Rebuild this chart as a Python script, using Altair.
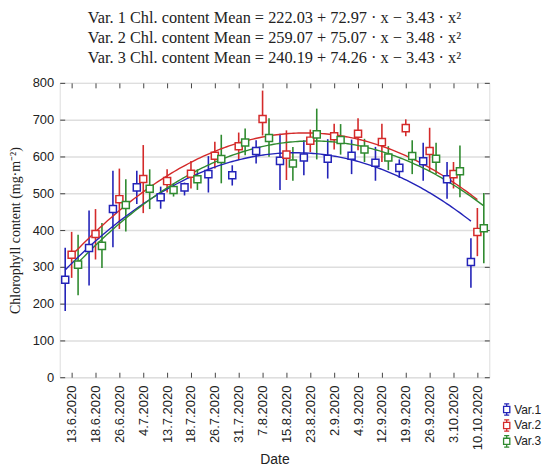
import altair as alt
import pandas as pd

dates = ["13.6.2020", "18.6.2020", "26.6.2020", "4.7.2020", "13.7.2020", "18.7.2020",
         "26.7.2020", "31.7.2020", "7.8.2020", "15.8.2020", "23.8.2020", "2.9.2020",
         "4.9.2020", "12.9.2020", "19.9.2020", "26.9.2020", "3.10.2020", "10.10.2020"]
variants = ["Var.1", "Var.2", "Var.3"]

v1_mean = [265, 351, 457, 516, 489, 516, 552, 549, 615, 588, 597, 594, 602, 583, 569, 587, 538, 313]
v1_lo = [180, 249, 353, 471, 458, 494, 502, 521, 581, 509, 549, 540, 552, 534, 542, 534, 485, 243]
v1_hi = [352, 453, 561, 561, 518, 529, 601, 576, 644, 662, 644, 647, 646, 626, 592, 637, 585, 378]

v2_mean = [333, 389, 484, 539, 533, 553, 602, 628, 702, 605, 643, 655, 662, 639, 677, 615, 552, 395]
v2_lo = [270, 320, 403, 446, 502, 513, 567, 590, 657, 536, 612, 619, 617, 585, 655, 558, 513, 329]
v2_hi = [395, 457, 567, 631, 565, 588, 640, 665, 779, 671, 673, 689, 704, 689, 701, 678, 585, 460]

v3_mean = [306, 357, 468, 512, 509, 538, 593, 638, 650, 581, 660, 645, 619, 597, 601, 594, 560, 405]
v3_lo = [223, 297, 396, 457, 491, 509, 527, 603, 599, 534, 592, 605, 585, 563, 552, 552, 489, 310]
v3_hi = [387, 419, 538, 565, 527, 565, 659, 676, 704, 626, 730, 688, 648, 628, 644, 637, 630, 501]

# fitted quadratic coefficients (from the chart's equations)
coef_a = [222.03, 259.07, 240.19]
coef_b = [72.97, 75.07, 74.26]
coef_c = [-3.43, -3.48, -3.43]

colors = ["#2323b8", "#d42a2a", "#2f8a2f"]
offsets = [-0.27, 0.0, 0.27]

rows = []
for name, m, lo, hi in [("Var.1", v1_mean, v1_lo, v1_hi),
                        ("Var.2", v2_mean, v2_lo, v2_hi),
                        ("Var.3", v3_mean, v3_lo, v3_hi)]:
    for i in range(len(dates)):
        rows.append({"idx": i + 1, "var": name, "mean": m[i], "lo": lo[i], "hi": hi[i]})
df = pd.DataFrame(rows)

offset_expr = ("datum.idx + (datum.var == 'Var.1' ? %s : datum.var == 'Var.2' ? %s : %s)"
               % (offsets[0], offsets[1], offsets[2]))

label_expr = "[" + ",".join("'%s'" % d for d in dates) + "][datum.value - 1]"

xscale = alt.Scale(domain=[0.5, 18.5], nice=False, zero=False)
yscale = alt.Scale(domain=[0, 800], nice=False)
cscale = alt.Scale(domain=variants, range=colors)

sans = "Liberation Sans"
serif = "Liberation Serif"
inward = {"expr": "-5"}

x_bottom = alt.Axis(orient="bottom", values=list(range(1, 19)), labelExpr=label_expr,
                    labelAngle=270, labelAlign="right", labelBaseline="middle",
                    labelFont=sans, labelFontSize=13, labelColor="#222",
                    tickSize=inward, tickColor="#444", domain=False, grid=False,
                    labelPadding=13, title="Date", titleFont=sans, titleFontSize=14,
                    titleFontWeight="normal", titleColor="#222", titlePadding=3)
y_left = alt.Axis(orient="left", values=list(range(0, 801, 100)),
                  labelFont=sans, labelFontSize=13, labelColor="#222",
                  tickSize=inward, tickColor="#444", domain=False,
                  grid=True, gridColor="#dedede", gridWidth=1.5, labelPadding=11,
                  title="Chlorophyll content (mg·m⁻²)", titleFont=serif, titleFontSize=14,
                  titleFontWeight="normal", titleColor="#222", titlePadding=10)
x_top = alt.Axis(orient="top", values=list(range(1, 19)), labels=False,
                 tickSize=inward, tickColor="#444", domain=False, grid=False, title=None)
y_right = alt.Axis(orient="right", values=list(range(0, 801, 100)), labels=False,
                   tickSize=inward, tickColor="#444", domain=False, grid=False,
                   title=None)

legend = alt.Legend(
    title=None, orient="none", legendX=443, legendY=322,
    symbolType="M-0.55,-0.55H0.55V0.55H-0.55Z M0,-1V-0.55 M0,0.55V1 M-0.45,-1H0.45 M-0.45,1H0.45",
    symbolSize=130, symbolStrokeWidth=1.3, symbolFillColor="white",
    labelFont=sans, labelFontSize=12, labelColor="#222", labelOffset=1,
    rowPadding=-1, padding=0)

base = alt.Chart(df).transform_calculate(xpos=offset_expr)

bars = base.mark_rule(strokeWidth=1.6).encode(
    x=alt.X("xpos:Q", scale=xscale, axis=x_bottom),
    y=alt.Y("lo:Q", scale=yscale, axis=y_left),
    y2="hi:Q",
    color=alt.Color("var:N", scale=cscale, legend=legend),
)

points = base.mark_point(shape="square", filled=False, fill="white", size=50,
                         strokeWidth=1.5, opacity=1).encode(
    x=alt.X("xpos:Q", scale=xscale, axis=x_top),
    y=alt.Y("mean:Q", scale=yscale, axis=y_right),
    color=alt.Color("var:N", scale=cscale, legend=legend),
)

curves = []
for k, name in enumerate(variants):
    c = alt.Chart(alt.sequence(1, 18.05, 0.1, as_="t")).transform_calculate(
        xpos="datum.t + %s" % offsets[k],
        yfit="%s + %s * datum.t + (%s) * datum.t * datum.t" % (coef_a[k], coef_b[k], coef_c[k]),
    ).mark_line(color=colors[k], strokeWidth=1.4, clip=True).encode(
        x=alt.X("xpos:Q", scale=xscale, axis=None),
        y=alt.Y("yfit:Q", scale=yscale, axis=None),
    )
    curves.append(c)

title = alt.TitleParams(
    text=["Var. 1 Chl. content Mean = 222.03 + 72.97 · x − 3.43 · x²",
          "Var. 2 Chl. content Mean = 259.07 + 75.07 · x − 3.48 · x²",
          "Var. 3 Chl. content Mean = 240.19 + 74.26 · x − 3.43 · x²"],
    font=serif, fontSize=16.4, fontWeight="normal", color="#222", lineHeight=20,
    anchor="middle", offset=11,
)

chart = alt.layer(bars, *curves, points).resolve_axis(
    x="independent", y="independent"
).properties(
    width=432, height=296, title=title,
    padding={"left": 0, "top": 0, "right": 0, "bottom": 0},
).configure_view(
    stroke="#555", strokeWidth=1.5
).configure(background="white")

chart.save("out.html", embed_options={"renderer": "svg", "actions": False})
